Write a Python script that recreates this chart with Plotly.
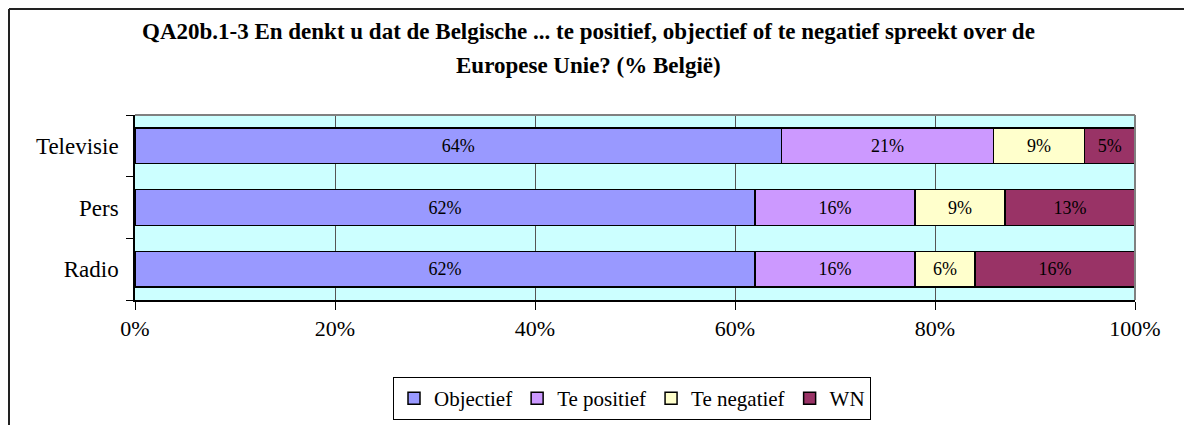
import plotly.graph_objects as go

categories = ["Televisie", "Pers", "Radio"]
series_names = ["Objectief", "Te positief", "Te negatief", "WN"]
objectief = [64, 62, 62]
te_positief = [21, 16, 16]
te_negatief = [9, 9, 6]
wn = [5, 13, 16]
colors = ["#9999FF", "#CC99FF", "#FFFFCC", "#993366"]
x_ticks = [0, 20, 40, 60, 80, 100]
x_tick_labels = ["0%", "20%", "40%", "60%", "80%", "100%"]

FONT = "Liberation Serif, Times New Roman, serif"
OFF = 8  # default page body margin
W, H = 1192, 425
# desired plot area in page pixels: x 135..1135, y 115..300
L = 135 - OFF
R = W + OFF - 1135
T = 115 - OFF
B = H + OFF - 300
plot_w = W - L - R
plot_h = H - T - B

def px(p):
    return (p - OFF - L) / plot_w

def py(p):
    return (H + OFF - B - p) / plot_h

fig = go.Figure()
for name, vals, col in zip(series_names, [objectief, te_positief, te_negatief, wn], colors):
    fig.add_trace(go.Bar(
        y=categories, x=vals, name=name, orientation="h",
        marker=dict(color=col, line=dict(color="black", width=1.5)),
        text=[f"{v}%" for v in vals], textposition="inside",
        insidetextanchor="middle", textangle=0,
        insidetextfont=dict(family=FONT, size=18, color="black"),
        hoverinfo="skip",
    ))

fig.update_layout(
    width=W, height=H,
    barmode="stack", barnorm="percent", bargap=0.42,
    margin=dict(l=L, r=R, t=T, b=B),
    paper_bgcolor="white", plot_bgcolor="#CCFFFF",
    font=dict(family=FONT, size=21, color="black"),
    showlegend=True,
    legend=dict(orientation="h", x=px(632), xanchor="center", y=py(377), yanchor="top",
                bordercolor="black", borderwidth=1, bgcolor="white",
                font=dict(family=FONT, size=21, color="black"),
                itemwidth=30, traceorder="normal"),
    xaxis=dict(range=[0, 100], tickvals=x_ticks, ticktext=x_tick_labels,
               showgrid=True, gridcolor="#555555", gridwidth=1,
               showline=True, linecolor="black", linewidth=1.5,
               ticks="outside", ticklen=8, tickcolor="black", zeroline=False,
               tickfont=dict(family=FONT, size=22)),
    yaxis=dict(categoryorder="array", categoryarray=categories[::-1],
               showline=True, linecolor="black", linewidth=1.5,
               ticks="outside", ticklen=7, tickcolor="black", tickson="boundaries",
               showgrid=False, tickfont=dict(family=FONT, size=23), ticklabelstandoff=10),
    annotations=[
        dict(text="<b>QA20b.1-3 En denkt u dat de Belgische ... te positief, objectief of te negatief spreekt over de</b>",
             xref="paper", yref="paper", x=px(588), y=py(32), xanchor="center", yanchor="middle",
             showarrow=False, font=dict(family=FONT, size=23, color="black")),
        dict(text="<b>Europese Unie? (% België)</b>",
             xref="paper", yref="paper", x=px(588), y=py(65), xanchor="center", yanchor="middle",
             showarrow=False, font=dict(family=FONT, size=23, color="black")),
    ],
    shapes=[
        dict(type="line", xref="paper", yref="paper", x0=0, x1=1, y0=1, y1=1,
             line=dict(color="#808080", width=2)),
        dict(type="line", xref="paper", yref="paper", x0=1, x1=1, y0=0, y1=1,
             line=dict(color="#808080", width=2)),
        dict(type="line", xref="paper", yref="paper", x0=px(9), x1=px(1210), y0=py(9), y1=py(9),
             line=dict(color="#222222", width=2)),
        dict(type="line", xref="paper", yref="paper", x0=px(9), x1=px(9), y0=py(9), y1=py(450),
             line=dict(color="#222222", width=2)),
    ],
)

fig.write_html("out.html")
